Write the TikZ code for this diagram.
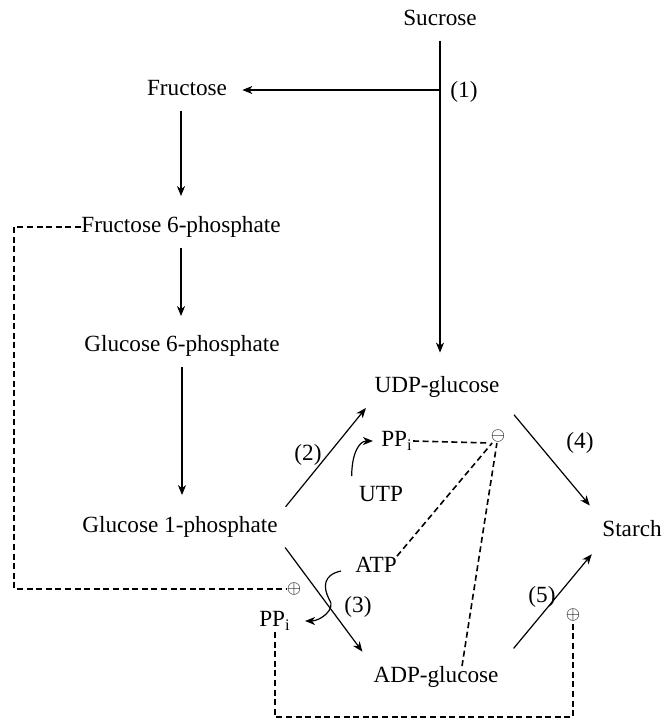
\documentclass[tikz,border=0pt]{standalone}
\usepackage{fontspec}
\setmainfont{Liberation Serif}
\usetikzlibrary{arrows.meta}

\begin{document}
\begin{tikzpicture}[x=0.5pt,y=-0.5pt,
    font=\fontsize{11.6}{14}\selectfont,
    every node/.style={inner sep=0pt,text height=8pt,text depth=2.5pt},
    arr/.style={line width=0.6pt,-{Stealth[length=5pt,width=4pt,inset=1.5pt]}},
    fb/.style={line width=0.8pt,dash pattern=on 3pt off 1.8pt},
    sign/.style={font=\fontsize{9}{9}\selectfont,text height=5.4pt,text depth=0.6pt,inner sep=0.3pt}]
    \useasboundingbox (0,0) rectangle (664,721);
    % metabolites
    \node (suc) at (440,20) {Sucrose};
    \node (fru) at (187,90) {Fructose};
    \node (f6p) at (181,227) {Fructose 6-phosphate};
    \node (g6p) at (182,346) {Glucose 6-phosphate};
    \node (g1p) at (180,527) {Glucose 1-phosphate};
    \node (udp) at (437,387) {UDP-glucose};
    \node (adp) at (436,677) {ADP-glucose};
    \node (sta) at (632,531) {Starch};
    % cofactors
    \node (ppa) at (397,441) {PP\textsubscript{i}};
    \node (utp) at (381,496) {UTP};
    \node (atp) at (376,567) {ATP};
    \node (ppb) at (275,621) {PP\textsubscript{i}};
    % effectors
    \node[sign] (inh) at (498,436) {$\ominus$};
    \node[sign] (actA) at (294,589) {$\oplus$};
    \node[sign] (actB) at (573,615) {$\oplus$};
    % enzyme numbers
    \node (e1) at (464,92) {(1)};
    \node (e2) at (308,455) {(2)};
    \node (e3) at (358,607) {(3)};
    \node (e4) at (580,443) {(4)};
    \node (e5) at (542,597) {(5)};

    % sucrose cleavage
    \draw[arr,shorten <=5pt,shorten >=11.75pt] (suc.south) -- (suc.south |- udp.north);
    \draw[arr,shorten >=7.5pt] (suc.south |- fru.east) -- (fru.east);
    % hexose phosphates
    \draw[arr,shorten <=5pt,shorten >=10pt] (f6p.north |- fru.south) -- (f6p.north);
    \draw[arr,shorten <=5pt,shorten >=9.5pt] (f6p.south) -- (f6p.south |- g6p.north);
    \draw[arr,shorten <=5pt,shorten >=10.5pt] (g6p.south) -- (g6p.south |- g1p.north);
    % nucleotide sugars and starch
    \draw[arr,shorten <=6pt,shorten >=6.5pt] (g1p.north east) -- (udp.south west);
    \draw[arr,shorten <=6pt,shorten >=9pt] (g1p.south east) -- (adp.north west);
    \draw[arr,shorten <=11pt,shorten >=9.5pt] (udp.south east) -- (sta.north west);
    \draw[arr,shorten <=11.5pt,shorten >=8pt] (adp.north east) -- (sta.south west);
    % cofactor side arrows
    \draw[arr] ([shift={(-7,-9)}]utp.north west) .. controls +(0,-22) and +(-14,0) .. ([xshift=-4pt]ppa.west);
    \draw[arr] ([shift={(-14,4)}]atp.west) .. controls +(-18,4) and +(-6,-12) .. ++(-12,28)
        .. controls +(8,10) and +(15,0) .. ([xshift=7pt]ppb.east);

    % regulation
    \coordinate (cA) at (14,589);
    \coordinate (cB) at (425,717);
    \draw[fb] (f6p.west) -| (cA) -- (actA.west);
    \draw[fb] (ppb.south) |- (cB) -| (actB.south);
    \draw[fb] (ppa.east) -- (inh.south west);
    \draw[fb] (atp.north east) -- (inh);
    \draw[fb] ([xshift=13pt]adp.north) -- (inh);
\end{tikzpicture}
\end{document}
